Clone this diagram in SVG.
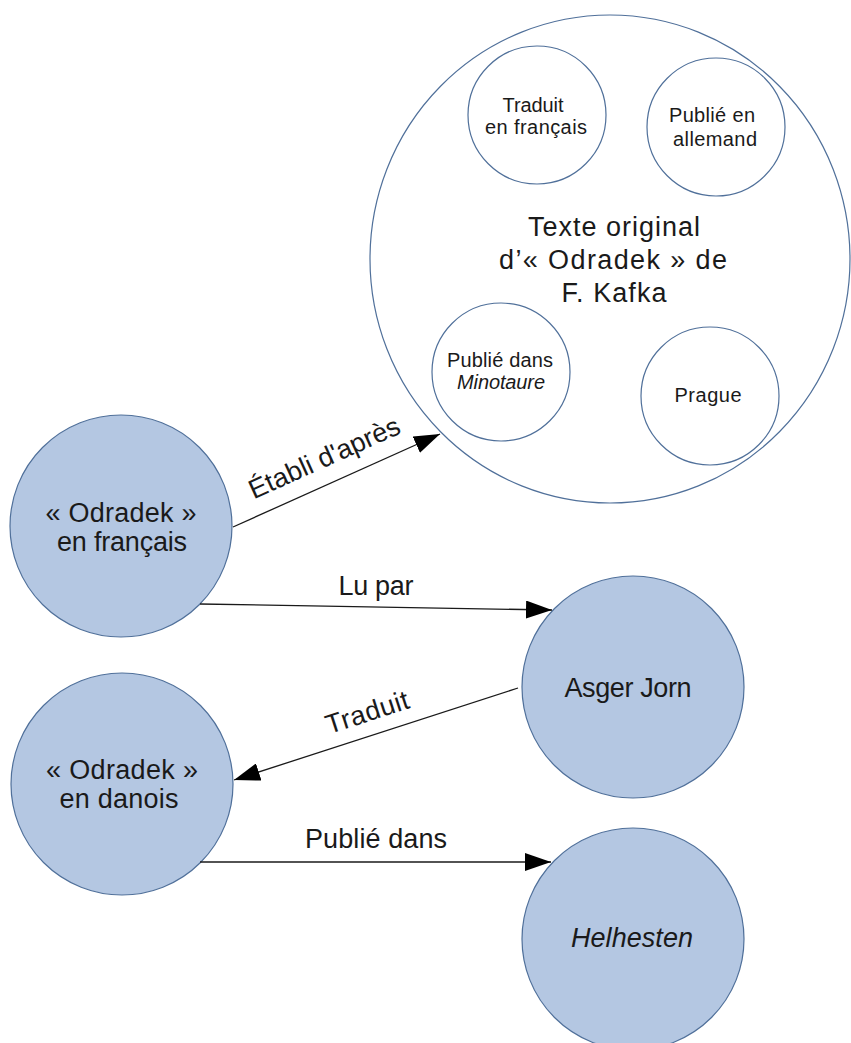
<svg xmlns="http://www.w3.org/2000/svg" width="851" height="1043" viewBox="0 0 851 1043">
<style>
text{font-family:"Liberation Sans",Arial,sans-serif;fill:#1a1a1a;text-anchor:middle}
.big{font-size:27px}
.sm{font-size:20px}
.it{font-style:italic}
.node{fill:#b4c7e2;stroke:#50709a;stroke-width:1.2}
.ring{fill:#ffffff;stroke:#50709a;stroke-width:1.2}
.edge{stroke:#1a1a1a;stroke-width:1.3;fill:none;marker-end:url(#arr)}
</style>
<defs>
<marker id="arr" viewBox="0 0 26 18" refX="26" refY="9" markerWidth="26" markerHeight="18" markerUnits="userSpaceOnUse" orient="auto">
<path d="M0,0 L26,9 L0,18 z" fill="#000"/>
</marker>
</defs>
<rect width="851" height="1043" fill="#ffffff"/>

<g id="texte-original">
<ellipse class="ring" cx="610" cy="259" rx="240" ry="244"/>
<text class="big" x="614" y="236" textLength="172">Texte original</text>
<text class="big" x="613" y="269" textLength="228">d’« Odradek » de</text>
<text class="big" x="614" y="302" textLength="105">F. Kafka</text>
</g>
<g id="traduit-francais">
<circle class="ring" cx="537" cy="115" r="69"/>
<text class="sm" x="533" y="112" textLength="61">Traduit</text>
<text class="sm" x="536" y="134" textLength="102">en français</text>
</g>
<g id="publie-allemand">
<circle class="ring" cx="716" cy="127" r="69"/>
<text class="sm" x="712" y="122" textLength="86">Publié en</text>
<text class="sm" x="715" y="146" textLength="84">allemand</text>
</g>
<g id="publie-minotaure">
<circle class="ring" cx="501" cy="372" r="69"/>
<text class="sm" x="500" y="367" textLength="106">Publié dans</text>
<text class="sm it" x="501" y="389" textLength="88">Minotaure</text>
</g>
<g id="prague">
<circle class="ring" cx="710" cy="396" r="69"/>
<text class="sm" x="708" y="402" textLength="67">Prague</text>
</g>

<g id="odradek-fr">
<circle class="node" cx="121" cy="526" r="111"/>
<text class="big" x="121" y="522" textLength="151">« Odradek »</text>
<text class="big" x="122" y="551" textLength="130">en français</text>
</g>
<g id="asger-jorn">
<circle class="node" cx="633" cy="687" r="111"/>
<text class="big" x="628" y="697" textLength="127">Asger Jorn</text>
</g>
<g id="odradek-da">
<circle class="node" cx="122" cy="784" r="111"/>
<text class="big" x="122" y="779" textLength="152">« Odradek »</text>
<text class="big" x="119" y="808" textLength="119">en danois</text>
</g>
<g id="helhesten">
<circle class="node" cx="633" cy="939" r="111"/>
<text class="big it" x="632" y="947" textLength="122">Helhesten</text>
</g>

<g id="connectors">
<path class="edge" d="M233,527 L440,434"/>
<text class="big" transform="translate(328,466) rotate(-24.2)" x="0" y="0" textLength="163">Établi d'après</text>
<path class="edge" d="M200,604 L552,610"/>
<text class="big" x="376" y="595" textLength="75">Lu par</text>
<path class="edge" d="M518,688 L234,780"/>
<text class="big" transform="translate(370,721) rotate(-17.9)" x="0" y="0" textLength="86">Traduit</text>
<path class="edge" d="M200,862 L551,862"/>
<text class="big" x="376" y="848" textLength="142">Publié dans</text>
</g>
</svg>
